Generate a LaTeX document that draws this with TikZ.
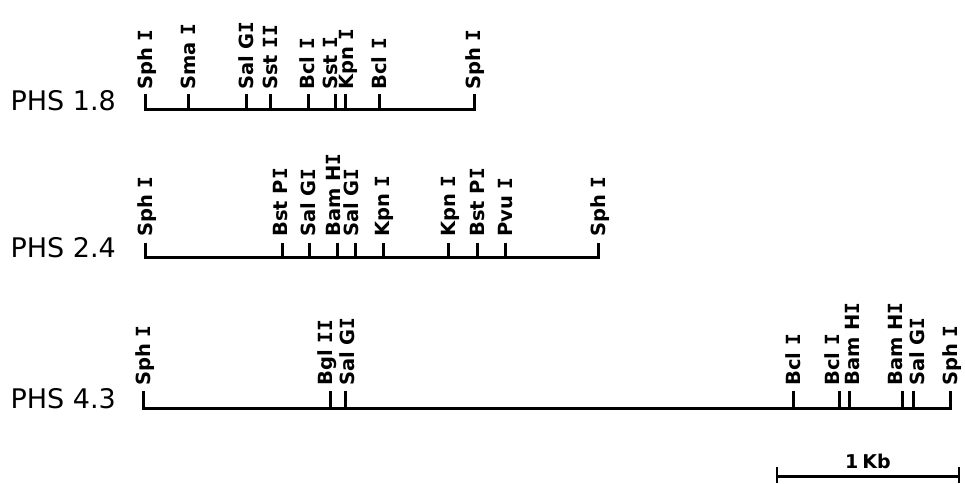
\documentclass[tikz,border=0pt]{standalone}
\usepackage{fontspec}
\setmainfont{DejaVu Sans}
\newfontfamily\sitefont{DejaVu Sans Mono}
\newcommand{\RI}{{\sitefont\bfseries I}}
\tikzset{
  mapline/.style={line width=3pt, line cap=butt, line join=miter},
  site/.style={rotate=90, anchor=base west, inner sep=0pt,
    font=\bfseries\fontsize{19.5}{19.5}\selectfont},
  mapname/.style={anchor=base east, inner sep=0pt,
    font=\fontsize{27}{27}\selectfont},
  scalelabel/.style={anchor=base, inner sep=0pt,
    font=\bfseries\fontsize{19}{19}\selectfont},
}
\begin{document}
\begin{tikzpicture}[x=1pt,y=-1pt]
\useasboundingbox (0,0) rectangle (965,483);
% ---------- PHS 1.8 ----------
\node[mapname] (n1) at (116,110) {PHS 1.8};
\coordinate (m1a) at (145,109); \coordinate (m1z) at (474,109);
\coordinate (m1at) at (145,94); \coordinate (m1zt) at (474,94);
\draw[mapline] (m1at) -- (m1a) -- (m1z) -- (m1zt);
\foreach \x/\lx/\t [count=\i] in {145/145/Sph \RI, 188/188/Sma \RI, 246/246/Sal G\RI,
  270/270/Sst \RI\RI, 308/307/Bcl \RI, 335/330/Sst \RI, 345/346/Kpn \RI, 379/379/Bcl \RI,
  474/473/Sph \RI}{
  \coordinate (m1b\i) at (\x,109);
  \coordinate (m1t\i) at (\x,94);
  \draw[mapline] (m1b\i) -- (m1t\i);
  \node[site] (m1s\i) at (\lx+7,90) {\t};
}
% ---------- PHS 2.4 ----------
\node[mapname] (n2) at (116,257) {PHS 2.4};
\coordinate (m2a) at (145,257); \coordinate (m2z) at (598,257);
\coordinate (m2at) at (145,243); \coordinate (m2zt) at (598,243);
\draw[mapline] (m2at) -- (m2a) -- (m2z) -- (m2zt);
\foreach \x/\lx/\t [count=\i] in {145/145/Sph \RI, 282/280/Bst P\RI, 309/308/Sal G\RI,
  337/333/Bam H\RI, 355/351/Sal G\RI, 383/382/Kpn \RI, 448/448/Kpn \RI, 477/477/Bst P\RI,
  505/505/Pvu \RI, 598/598/Sph \RI}{
  \coordinate (m2b\i) at (\x,257);
  \coordinate (m2t\i) at (\x,243);
  \draw[mapline] (m2b\i) -- (m2t\i);
  \node[site] (m2s\i) at (\lx+7,237) {\t};
}
% ---------- PHS 4.3 ----------
\node[mapname] (n3) at (116,408) {PHS 4.3};
\coordinate (m3a) at (143,408); \coordinate (m3z) at (950,408);
\coordinate (m3at) at (143,391); \coordinate (m3zt) at (950,391);
\draw[mapline] (m3at) -- (m3a) -- (m3z) -- (m3zt);
\foreach \x/\lx/\t [count=\i] in {143/143/Sph \RI, 330/325/Bgl \RI\RI, 345/347/Sal G\RI,
  793/793/Bcl \RI, 839/832/Bcl \RI, 849/852/Bam H\RI, 902/895/Bam H\RI, 913/917/Sal G\RI,
  950/950/Sph \RI}{
  \coordinate (m3b\i) at (\x,408);
  \coordinate (m3t\i) at (\x,391);
  \draw[mapline] (m3b\i) -- (m3t\i);
  \node[site] (m3s\i) at (\lx+7,386) {\t};
}
% ---------- scale bar ----------
\coordinate (sa) at (777,476); \coordinate (sz) at (959,476);
\coordinate (sat) at (777,467); \coordinate (sab) at (777,483);
\coordinate (szt) at (959,467); \coordinate (szb) at (959,483);
\draw[mapline] (sa) -- (sz);
\draw[mapline, line width=2pt] (sat) -- (sab);
\draw[mapline, line width=2pt] (szt) -- (szb);
\node[scalelabel] (kb) at (868,468) {1\hspace{4pt}Kb};
\end{tikzpicture}
\end{document}
